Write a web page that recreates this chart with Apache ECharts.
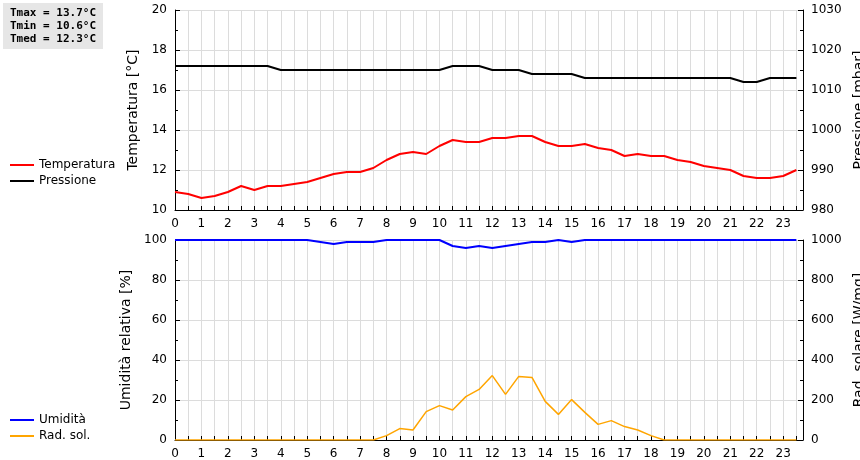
<!DOCTYPE html>
<html>
<head>
<meta charset="utf-8">
<script src="https://cdn.jsdelivr.net/npm/echarts@6/dist/echarts.min.js"></script>
<style>
html,body{margin:0;padding:0;background:#fff;}
#main{width:860px;height:460px;}
</style>
</head>
<body>
<div id="main"></div>
<script>
// ore, un punto ogni mezz'ora
var ore = [];
for (var i = 0; i < 48; i++) ore.push(i / 2);

var temperatura = [10.9,10.8,10.6,10.7,10.9,11.2,11.0,11.2,11.2,11.3,11.4,11.6,
  11.8,11.9,11.9,12.1,12.5,12.8,12.9,12.8,13.2,13.5,13.4,13.4,
  13.6,13.6,13.7,13.7,13.4,13.2,13.2,13.3,13.1,13.0,12.7,12.8,
  12.7,12.7,12.5,12.4,12.2,12.1,12.0,11.7,11.6,11.6,11.7,12.0];
var pressione = [1016,1016,1016,1016,1016,1016,1016,1016,1015,1015,1015,1015,
  1015,1015,1015,1015,1015,1015,1015,1015,1015,1016,1016,1016,
  1015,1015,1015,1014,1014,1014,1014,1013,1013,1013,1013,1013,
  1013,1013,1013,1013,1013,1013,1013,1012,1012,1013,1013,1013];
var umidita = [100,100,100,100,100,100,100,100,100,100,100,99,
  98,99,99,99,100,100,100,100,100,97,96,97,
  96,97,98,99,99,100,99,100,100,100,100,100,
  100,100,100,100,100,100,100,100,100,100,100,100];
var radiazione = [0,0,0,0,0,0,0,0,0,0,0,0,
  0,0,0,0,22,57,50,142,172,150,217,253,
  322,228,318,313,193,128,202,138,78,97,67,50,
  22,0,0,0,0,0,0,0,0,0,0,0];
var statistiche = ['Tmax = 13.7°C', 'Tmin = 10.6°C', 'Tmed = 12.3°C'];

function coppie(v) { return v.map(function (y, i) { return [ore[i], y]; }); }

var dom = document.getElementById('main');
var myChart = echarts.init(dom);

var gridLine = {show: true, lineStyle: {color: '#dcdcdc', width: 1}};
var asse = {lineStyle: {color: '#000', width: 1}};
var lbl = {color: '#000', fontSize: 12, fontFamily: 'DejaVu Sans'};

function xAsse(idx) {
  return {
    type: 'value', gridIndex: idx, min: 0, max: 23.75, interval: 0.5,
    axisLine: asse, axisTick: {inside: true, length: 4, lineStyle: {color: '#000'}},
    splitLine: gridLine,
    axisLabel: Object.assign({}, lbl, {
      formatter: function (v) { return v % 1 === 0 ? String(v) : ''; },
      showMaxLabel: false
    })
  };
}
function yAsse(idx, min, max, step, nome, pos, split) {
  return {
    type: 'value', gridIndex: idx, min: min, max: max, interval: step, position: pos,
    name: nome, nameLocation: 'middle', nameGap: pos === 'left' ? 32 : 40,
    nameTextStyle: {color: '#000', fontSize: 14, fontFamily: 'DejaVu Sans'},
    axisLine: {show: true, lineStyle: {color: '#000'}},
    axisTick: {show: true, inside: true, length: 5, lineStyle: {color: '#000'}},
    minorTick: {show: true, splitNumber: 2, length: 3, lineStyle: {color: '#000'}},
    splitLine: split ? gridLine : {show: false},
    axisLabel: Object.assign({}, lbl, {formatter: function (v) { return String(v); }})
  };
}

option = {
  animation: false,
  backgroundColor: '#fff',
  graphic: [{
    type: 'rect', left: 3, top: 3, shape: {width: 100, height: 46},
    style: {fill: '#e6e6e6'}
  }, {
    type: 'text', left: 10, top: 7,
    style: {text: statistiche.join('\n'), font: 'bold 11px "DejaVu Sans Mono"', lineHeight: 13, fill: '#000'}
  }],
  legend: [{
    left: 5, top: 154, orient: 'vertical', itemGap: 4, itemWidth: 24, itemHeight: 2,
    icon: 'rect', data: ['Temperatura', 'Pressione'],
    textStyle: {color: '#000', fontSize: 12, fontFamily: 'DejaVu Sans'}
  }, {
    left: 5, top: 409, orient: 'vertical', itemGap: 4, itemWidth: 24, itemHeight: 2,
    icon: 'rect', data: ['Umidità', 'Rad. sol.'],
    textStyle: {color: '#000', fontSize: 12, fontFamily: 'DejaVu Sans'}
  }],
  grid: [
    {left: 175, top: 10, width: 628, height: 200, outerBoundsMode: 'none'},
    {left: 175, top: 240, width: 628, height: 200, outerBoundsMode: 'none'}
  ],
  xAxis: [xAsse(0), xAsse(1)],
  yAxis: [
    yAsse(0, 10, 20, 2, 'Temperatura [°C]', 'left', true),
    yAsse(0, 980, 1030, 10, 'Pressione [mbar]', 'right', false),
    yAsse(1, 0, 100, 20, 'Umidità relativa [%]', 'left', true),
    yAsse(1, 0, 1000, 200, 'Rad. solare [W/mq]', 'right', false)
  ],
  series: [
    {name: 'Temperatura', type: 'line', xAxisIndex: 0, yAxisIndex: 0, data: coppie(temperatura),
      showSymbol: false, lineStyle: {color: '#ff0000', width: 2}, itemStyle: {color: '#ff0000'}},
    {name: 'Pressione', type: 'line', xAxisIndex: 0, yAxisIndex: 1, data: coppie(pressione),
      showSymbol: false, lineStyle: {color: '#000', width: 2}, itemStyle: {color: '#000'}},
    {name: 'Umidità', type: 'line', xAxisIndex: 1, yAxisIndex: 2, data: coppie(umidita),
      showSymbol: false, lineStyle: {color: '#0000ff', width: 2}, itemStyle: {color: '#0000ff'}},
    {name: 'Rad. sol.', type: 'line', xAxisIndex: 1, yAxisIndex: 3, data: coppie(radiazione),
      showSymbol: false, lineStyle: {color: '#ffa500', width: 1.5}, itemStyle: {color: '#ffa500'}}
  ]
};

if (option && typeof option === "object") {
  myChart.setOption(option, true);
}
</script>
</body>
</html>
